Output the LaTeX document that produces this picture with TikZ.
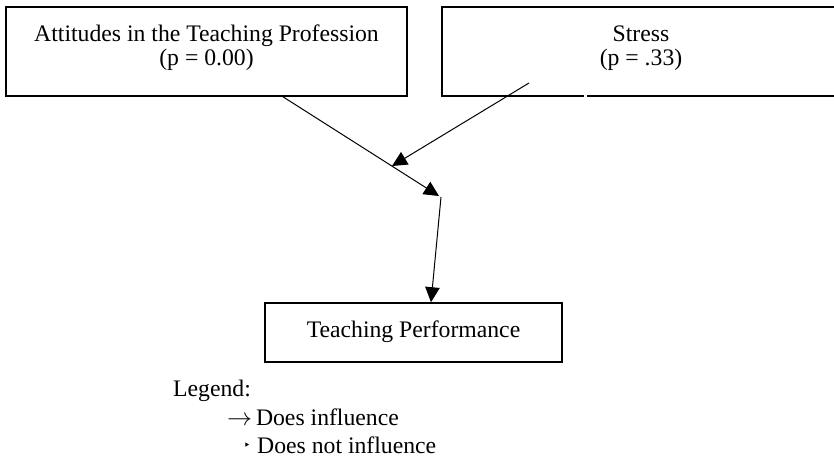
\documentclass[tikz,border=0pt]{standalone}
\usepackage{fontspec}
\setmainfont{Liberation Serif}
\newfontfamily\dejavu{DejaVu Sans}
\usetikzlibrary{arrows.meta}
\tikzset{
  boxnode/.style={draw=black, line width=1.6pt, inner sep=0pt, fill=none},
  txt/.style={inner sep=0pt, anchor=base, font=\fontsize{23.7}{25}\selectfont},
  ltxt/.style={inner sep=0pt, anchor=base west, font=\fontsize{23.7}{25}\selectfont},
  conn/.style={draw=black, line width=1pt, -{Triangle[length=15pt,width=14.5pt]}},
}
\begin{document}
\begin{tikzpicture}[x=1pt,y=-1pt]
\clip (0,0) rectangle (834,459);
\fill[white] (0,0) rectangle (834,459);
% boxes
\node[boxnode, minimum width=401pt, minimum height=89pt] (att) at (206.5,51.5) {};
\node[boxnode, minimum width=398pt, minimum height=89pt] (str) at (641,51.5) {};
\node[boxnode, minimum width=297pt, minimum height=59pt] (perf) at (413.5,332.5) {};
% small gap in the bottom border of the Stress box
\draw[white, line width=3pt] (584.3,96) -- (586.7,96);
% box texts
\node[txt] (att1) at (206.5,41) {Attitudes in the Teaching Profession};
\node[txt] (att2) at (206.5,65) {(p = 0.00)};
\node[txt] (str1) at (641,41) {Stress};
\node[txt] (str2) at (641,65) {(p = .33)};
\node[txt] (perfT) at (413.5,337) {Teaching Performance};
% connectors
\coordinate (a1) at (att.south -| 283,0);
\coordinate (s1) at (529,83);
\coordinate (j1) at (439,196);
\coordinate (j2) at (441,197);
\coordinate (s2) at (392,166);
\draw[conn] (a1) -- (j1);
\draw[conn] (s1) -- (s2);
\draw[conn] (j2) -- (perf.north -| 431,0);
% legend
\node[ltxt] (leg) at (173,396) {Legend:};
\node[ltxt] (leg1) at (227,425) {\(\rightarrow\)\,Does influence};
\node[ltxt] (leg2) at (257,453) {Does not influence};
\node[inner sep=0pt, anchor=east, font=\dejavu\fontsize{12}{12}\selectfont] (leg2m) at (251,446) {‣};
\end{tikzpicture}
\end{document}
